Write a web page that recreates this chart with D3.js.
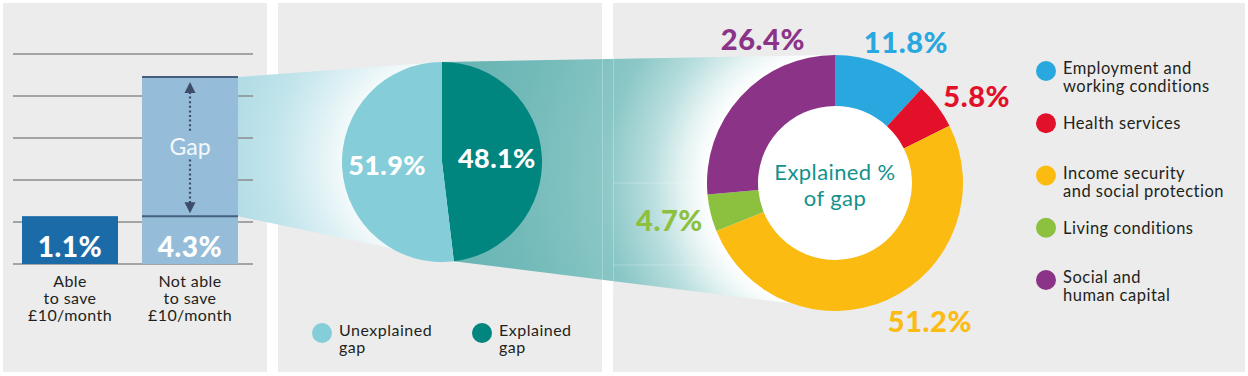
<!DOCTYPE html>
<html>
<head>
<meta charset="utf-8">
<script src="https://cdn.jsdelivr.net/npm/d3@7"></script>
<style>
  body { margin: 0; background: #fff; }
  svg { display: block; font-family: Lato, "Noto Sans", sans-serif; }
</style>
</head>
<body>
<div id="chart"></div>
<script>
// savings bars
const BAR_LABELS = [["Able", "to save", "£10/month"], ["Not able", "to save", "£10/month"]];
const BAR_VALUES = [1.1, 4.3];
const GRID_TICKS = [0, 1, 2, 3, 4, 5];
// gap split
const GAP_LABELS = [["Unexplained", "gap"], ["Explained", "gap"]];
const GAP_VALUES = [51.9, 48.1];
// explained gap factors
const FACTOR_LABELS = [
  ["Employment and", "working conditions"],
  ["Health services"],
  ["Income security", "and social protection"],
  ["Living conditions"],
  ["Social and", "human capital"],
];
const FACTOR_VALUES = [11.8, 5.8, 51.2, 4.7, 26.4];

const W = 1248, H = 376;
const PANEL_BG = "#ececec";
const GAP_COLORS = ["#84cdd9", "#00857f"];
const FACTOR_COLORS = ["#29a8e0", "#e3102a", "#fbbb10", "#8cc03f", "#8b3387"];
const TEXT = "#231f20";

const svg = d3.select("#chart").append("svg").attr("width", W).attr("height", H);
const defs = svg.append("defs");

// panels
const panels = [[3, 267], [278, 602], [613, 1245]];
svg.selectAll(".panel").data(panels).enter().append("rect")
  .attr("x", d => d[0]).attr("y", 3)
  .attr("width", d => d[1] - d[0]).attr("height", 369)
  .attr("fill", PANEL_BG);

// ---------- panel 1: bars ----------
const x = d3.scaleBand().domain(d3.range(BAR_VALUES.length))
  .range([10, 250]).paddingInner(0.2).paddingOuter(0.1);
const y = d3.scaleLinear().domain([0, 4.3]).range([264, 77]);
const grid = d3.scaleLinear().domain([0, 5]).range([264, 54]);

// pie geometry (needed for the funnels)
const pcx = 442, pcy = 162, pr = 100;
const dcx = 835, dcy = 183, dR = 128, dr = 77;

const gapPie = d3.pie().sort(null).value(d => d.v);
const gapData = gapPie([
  { i: 1, v: GAP_VALUES[1] },
  { i: 0, v: GAP_VALUES[0] },
]);
const explainedEnd = gapData[0].endAngle;
const pt = (cx, cy, r, a) => [cx + r * Math.sin(a), cy - r * Math.cos(a)];

// funnel: gap bar -> pie
const g1 = defs.append("radialGradient").attr("id", "glow1")
  .attr("gradientUnits", "userSpaceOnUse")
  .attr("cx", pcx).attr("cy", pcy).attr("r", 210);
[[0.48, "#f2f9fa"], [0.62, "#dcf0f4"], [0.8, "#c2e5eb"], [1, "#b3dde6"]]
  .forEach(s => g1.append("stop").attr("offset", s[0]).attr("stop-color", s[1]));

const barRight = x(1) + x.bandwidth();
const pieTop = pt(pcx, pcy, pr, 0);
const pieCut = pt(pcx, pcy, pr, explainedEnd);
svg.append("path")
  .attr("d", d3.line()([[barRight, y(BAR_VALUES[1])], pieTop, pieCut, [barRight, y(BAR_VALUES[0])]]) + "Z")
  .attr("fill", "url(#glow1)");

// grid lines (drawn over the funnel, under the bars)
svg.append("g").selectAll("line").data(GRID_TICKS).enter().append("line")
  .attr("x1", 13).attr("x2", 253)
  .attr("y1", d => grid(d)).attr("y2", d => grid(d))
  .attr("stroke", "#8c8c8c").attr("stroke-width", 1.5);

// bars
const bars = svg.append("g");
bars.append("rect")
  .attr("x", x(0)).attr("width", x.bandwidth())
  .attr("y", y(BAR_VALUES[0])).attr("height", y(0) - y(BAR_VALUES[0]))
  .attr("fill", "#1b6ba8");
bars.append("rect")
  .attr("x", x(1)).attr("width", x.bandwidth())
  .attr("y", y(BAR_VALUES[1])).attr("height", y(0) - y(BAR_VALUES[1]))
  .attr("fill", "#95bdd9");
[BAR_VALUES[1], BAR_VALUES[0]].forEach(v => {
  bars.append("line")
    .attr("x1", x(1)).attr("x2", barRight)
    .attr("y1", y(v)).attr("y2", y(v))
    .attr("stroke", "#44607e").attr("stroke-width", 2);
});

// gap arrow
const ax = x(1) + x.bandwidth() / 2;
const arrowCol = "#3d4d68";
const gapMid = y((BAR_VALUES[0] + BAR_VALUES[1]) / 2);
bars.append("line").attr("x1", ax).attr("x2", ax)
  .attr("y1", y(BAR_VALUES[1]) + 15).attr("y2", gapMid - 15)
  .attr("stroke", arrowCol).attr("stroke-width", 2.2).attr("stroke-dasharray", "2,2.6");
bars.append("line").attr("x1", ax).attr("x2", ax)
  .attr("y1", gapMid + 13).attr("y2", y(BAR_VALUES[0]) - 13)
  .attr("stroke", arrowCol).attr("stroke-width", 2.2).attr("stroke-dasharray", "2,2.6");
const tipTop = y(BAR_VALUES[1]) + 5, tipBot = y(BAR_VALUES[0]) - 3;
bars.append("path")
  .attr("d", `M${ax},${tipTop}L${ax - 5.5},${tipTop + 11}L${ax + 5.5},${tipTop + 11}Z`)
  .attr("fill", arrowCol);
bars.append("path")
  .attr("d", `M${ax},${tipBot}L${ax - 5.5},${tipBot - 11}L${ax + 5.5},${tipBot - 11}Z`)
  .attr("fill", arrowCol);
bars.append("text")
  .attr("x", ax).attr("y", gapMid + 8)
  .attr("text-anchor", "middle").attr("font-size", 23).attr("font-weight", 400)
  .attr("fill", "#f4f8fb").text("Gap");

// values in bars
bars.selectAll(".val").data(BAR_VALUES).enter().append("text")
  .attr("x", (d, i) => x(i) + x.bandwidth() / 2)
  .attr("y", y(0) - 7)
  .attr("text-anchor", "middle").attr("font-size", 28).attr("font-weight", 900)
  .attr("letter-spacing", 0.5)
  .attr("fill", "#fff").text(d => d.toFixed(1) + "%");

// category labels
const cat = svg.append("g").selectAll("text").data(BAR_LABELS).enter().append("text")
  .attr("x", (d, i) => x(i) + x.bandwidth() / 2)
  .attr("y", 287)
  .attr("text-anchor", "middle").attr("font-size", 16).attr("letter-spacing", 0.4)
  .attr("fill", TEXT);
cat.selectAll("tspan").data(d => d).enter().append("tspan")
  .attr("x", function () { return d3.select(this.parentNode).attr("x"); })
  .attr("dy", (d, i) => (i === 0 ? 0 : 17)).text(d => d);

// ---------- band: explained slice -> donut ----------
const g2 = defs.append("radialGradient").attr("id", "glow2")
  .attr("gradientUnits", "userSpaceOnUse")
  .attr("cx", dcx).attr("cy", dcy).attr("r", 400);
[[0.32, "#ffffff"], [0.38, "#e6f3f3"], [0.46, "#b9dede"], [0.58, "#8ac7c6"], [0.8, "#72bab9"], [1, "#67b4b3"]]
  .forEach(s => g2.append("stop").attr("offset", s[0]).attr("stop-color", s[1]));
const donutTop = pt(dcx, dcy, dR, 0);
const donutLow = pt(dcx, dcy, dR, (200 / 180) * Math.PI);
svg.append("path")
  .attr("d", d3.line()([pieTop, donutTop, donutLow, pieCut]) + "Z")
  .attr("fill", "url(#glow2)");
// faint panel edges showing through the band
const faint = svg.append("g").attr("stroke", "#fff").attr("stroke-opacity", 0.25).attr("stroke-width", 1);
[602.5, 613.5].forEach(v => faint.append("line").attr("x1", v).attr("x2", v).attr("y1", 55).attr("y2", 290));
[183, 265].forEach(v => faint.append("line").attr("x1", 613).attr("x2", 730).attr("y1", v).attr("y2", v));

// ---------- panel 2: pie ----------
const pieArc = d3.arc().innerRadius(0).outerRadius(pr);
const pieLabelArc = d3.arc().innerRadius(55).outerRadius(55);
const pg = svg.append("g").attr("transform", `translate(${pcx},${pcy})`);
pg.selectAll("path").data(gapData).enter().append("path")
  .attr("d", pieArc).attr("fill", d => GAP_COLORS[d.data.i]);
pg.selectAll("text").data(gapData).enter().append("text")
  .attr("transform", d => `translate(${pieLabelArc.centroid(d)})`)
  .attr("dy", "0.36em")
  .attr("text-anchor", "middle").attr("font-size", 27).attr("font-weight", 900)
  .attr("letter-spacing", 0.4)
  .attr("fill", "#fff").text(d => d.data.v.toFixed(1) + "%");

// pie legend
const lx = d3.scaleBand().domain(d3.range(GAP_LABELS.length)).range([312, 632]);
const pl = svg.append("g").selectAll("g").data(GAP_LABELS).enter().append("g")
  .attr("transform", (d, i) => `translate(${lx(i)},333)`);
pl.append("circle").attr("cx", 10).attr("r", 10).attr("fill", (d, i) => GAP_COLORS[i]);
const plt = pl.append("text").attr("x", 27).attr("y", 3).attr("font-size", 16)
  .attr("letter-spacing", 0.5).attr("fill", TEXT);
plt.selectAll("tspan").data(d => d).enter().append("tspan")
  .attr("x", 27).attr("dy", (d, i) => (i === 0 ? 0 : 17)).text(d => d);

// ---------- panel 3: donut ----------
const donut = d3.pie().sort(null)(FACTOR_VALUES);
const donutArc = d3.arc().innerRadius(dr).outerRadius(dR);
const labelArc = d3.arc().innerRadius(160).outerRadius(160);
const LABEL_NUDGE = [[13, 9], [14, 10], [29, -7], [-10, 0], [46, -35]];
const dg = svg.append("g").attr("transform", `translate(${dcx},${dcy})`);
dg.append("circle").attr("r", dr).attr("fill", "#fff");
dg.selectAll("path").data(donut).enter().append("path")
  .attr("d", donutArc).attr("fill", (d, i) => FACTOR_COLORS[i]);
dg.selectAll(".pct").data(donut).enter().append("text")
  .attr("transform", (d, i) => {
    const c = labelArc.centroid(d);
    return `translate(${c[0] + LABEL_NUDGE[i][0]},${c[1] + LABEL_NUDGE[i][1]})`;
  })
  .attr("dy", "0.36em")
  .attr("text-anchor", "middle").attr("font-size", 29).attr("font-weight", 900)
  .attr("letter-spacing", 0.6)
  .attr("fill", (d, i) => FACTOR_COLORS[i]).text(d => d.data.toFixed(1) + "%");
dg.append("text").attr("text-anchor", "middle").attr("font-size", 22).attr("fill", "#13918c")
  .attr("letter-spacing", 0.4)
  .selectAll("tspan").data(["Explained %", "of gap"]).enter().append("tspan")
  .attr("x", 0).attr("y", (d, i) => -3 + i * 26).text(d => d);

// legend
const ly = d3.scaleLinear().domain([0, FACTOR_LABELS.length - 1]).range([71, 280]);
const lg = svg.append("g").selectAll("g").data(FACTOR_LABELS).enter().append("g")
  .attr("transform", (d, i) => `translate(1046,${ly(i)})`);
lg.append("circle").attr("r", 10).attr("fill", (d, i) => FACTOR_COLORS[i]);
const lgt = lg.append("text").attr("x", 17).attr("y", d => (d.length > 1 ? 3 : 6))
  .attr("font-size", 16.5).attr("letter-spacing", 0.5).attr("fill", TEXT);
lgt.selectAll("tspan").data(d => d).enter().append("tspan")
  .attr("x", 17).attr("dy", (d, i) => (i === 0 ? 0 : 18)).text(d => d);
</script>
</body>
</html>
